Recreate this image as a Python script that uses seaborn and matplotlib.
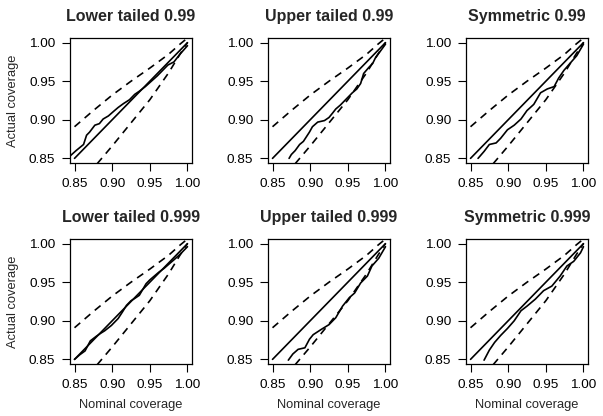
import numpy as np
import pandas as pd
import matplotlib
matplotlib.use("Agg")
import matplotlib.pyplot as plt
import seaborn as sns

# ---- data ----
titles = ["Lower tailed 0.99", "Upper tailed 0.99", "Symmetric 0.99",
          "Lower tailed 0.999", "Upper tailed 0.999", "Symmetric 0.999"]

ticks = [0.85, 0.90, 0.95, 1.00]
tick_labels = ["0.85", "0.90", "0.95", "1.00"]

diag_x = [0.85, 1.00]
diag_y = [0.85, 1.00]

band_up_x = [0.85, 0.875, 0.90, 0.925, 0.95, 0.975, 0.99, 1.00]
band_up_y = [0.891, 0.912, 0.932, 0.950, 0.967, 0.985, 0.998, 1.006]
band_lo_x = [0.88, 0.90, 0.925, 0.95, 0.975, 0.99, 1.00]
band_lo_y = [0.843, 0.866, 0.896, 0.926, 0.961, 0.985, 1.000]

c1_x = [0.844, 0.852, 0.862, 0.866, 0.870, 0.877, 0.883, 0.888, 0.895, 0.902, 0.908,
        0.915, 0.923, 0.930, 0.936, 0.944, 0.952, 0.960, 0.967, 0.974, 0.982, 0.990, 1.000]
c1_y = [0.853, 0.860, 0.868, 0.880, 0.884, 0.893, 0.895, 0.901, 0.905, 0.911, 0.916,
        0.921, 0.926, 0.933, 0.937, 0.943, 0.950, 0.957, 0.964, 0.971, 0.975, 0.985, 0.996]

c2_x = [0.872, 0.875, 0.880, 0.886, 0.891, 0.895, 0.899, 0.903, 0.910, 0.919, 0.925,
        0.930, 0.934, 0.940, 0.945, 0.950, 0.956, 0.962, 0.967, 0.971, 0.978, 0.983,
        0.987, 0.994, 1.000]
c2_y = [0.850, 0.855, 0.860, 0.868, 0.872, 0.878, 0.884, 0.891, 0.897, 0.899, 0.903,
        0.909, 0.914, 0.919, 0.924, 0.929, 0.935, 0.940, 0.947, 0.960, 0.968, 0.973,
        0.981, 0.990, 0.998]

c3_x = [0.860, 0.868, 0.875, 0.884, 0.890, 0.899, 0.908, 0.917, 0.925, 0.934, 0.943,
        0.952, 0.961, 0.967, 0.974, 0.982, 0.991, 1.000]
c3_y = [0.850, 0.859, 0.868, 0.870, 0.876, 0.887, 0.893, 0.901, 0.912, 0.920, 0.935,
        0.940, 0.943, 0.954, 0.964, 0.973, 0.983, 0.998]

c4_x = [0.850, 0.857, 0.864, 0.871, 0.879, 0.885, 0.890, 0.899, 0.908, 0.914, 0.919,
        0.925, 0.930, 0.936, 0.945, 0.950, 0.956, 0.962, 0.969, 0.976, 0.982, 0.990, 1.000]
c4_y = [0.850, 0.856, 0.861, 0.874, 0.880, 0.884, 0.887, 0.894, 0.903, 0.912, 0.920,
        0.926, 0.929, 0.933, 0.948, 0.953, 0.958, 0.963, 0.968, 0.974, 0.979, 0.986, 0.996]

c5_x = [0.871, 0.877, 0.884, 0.893, 0.899, 0.904, 0.915, 0.925, 0.934, 0.943, 0.952,
        0.959, 0.967, 0.976, 0.982, 0.991, 1.000]
c5_y = [0.849, 0.857, 0.863, 0.865, 0.876, 0.882, 0.889, 0.895, 0.904, 0.919, 0.930,
        0.936, 0.949, 0.958, 0.971, 0.981, 0.996]

c6_x = [0.868, 0.875, 0.882, 0.890, 0.899, 0.908, 0.917, 0.925, 0.936, 0.947, 0.958,
        0.969, 0.978, 0.987, 0.996, 1.000]
c6_y = [0.849, 0.862, 0.872, 0.881, 0.890, 0.900, 0.913, 0.919, 0.928, 0.939, 0.945,
        0.958, 0.971, 0.977, 0.988, 0.996]

curves_x = [c1_x, c2_x, c3_x, c4_x, c5_x, c6_x]
curves_y = [c1_y, c2_y, c3_y, c4_y, c5_y, c6_y]

# ---- styling ----
sns.set_theme(style="ticks")
plt.rcParams['font.family'] = ['Liberation Sans', 'DejaVu Sans']
plt.rcParams['axes.linewidth'] = 0.8

W, H = 603, 416
fig = plt.figure(figsize=(W / 100, H / 100), dpi=100)

col_left = [70, 268, 466]
row_top = [38, 239]
pw, ph = 122, 125

lw_main = 1.2
dash = (0, (4.5, 3.5))
for i in range(6):
    r, c = divmod(i, 3)
    left = col_left[c] / W
    bottom = 1 - (row_top[r] + ph) / H
    ax = fig.add_axes([left, bottom, pw / W, ph / H])

    df = pd.DataFrame({"x": curves_x[i], "y": curves_y[i]})
    sns.lineplot(data=df, x="x", y="y", ax=ax, color="black", lw=lw_main,
                 sort=False, estimator=None)
    sns.lineplot(x=diag_x, y=diag_y, ax=ax, color="black", lw=lw_main)
    sns.lineplot(x=band_up_x, y=band_up_y, ax=ax, color="black", lw=lw_main,
                 linestyle=dash)
    sns.lineplot(x=band_lo_x, y=band_lo_y, ax=ax, color="black", lw=lw_main,
                 linestyle=dash)

    ax.set_xlim(0.844, 1.006)
    ax.set_ylim(0.844, 1.006)
    ax.set_xticks(ticks)
    ax.set_xticklabels(tick_labels)
    ax.set_yticks(ticks)
    ax.set_yticklabels(tick_labels)
    ax.tick_params(direction="out", length=5.5, width=0.8, pad=5,
                   labelsize=9.7, colors="black")
    for s in ax.spines.values():
        s.set_visible(True)
        s.set_color("black")
        s.set_linewidth(0.9)
    ax.set_title(titles[i], fontsize=11.5, fontweight="bold", pad=12)
    if c == 0:
        ax.set_ylabel("Actual coverage", fontsize=9.3)
        ax.yaxis.set_label_coords(-0.42, 0.5)
    else:
        ax.set_ylabel("")
    if r == 1:
        ax.set_xlabel("Nominal coverage", fontsize=9.3)
        ax.xaxis.set_label_coords(0.5, -0.28)
    else:
        ax.set_xlabel("")
    ax.grid(False)

fig.savefig("out.png", dpi=100, facecolor="white")
